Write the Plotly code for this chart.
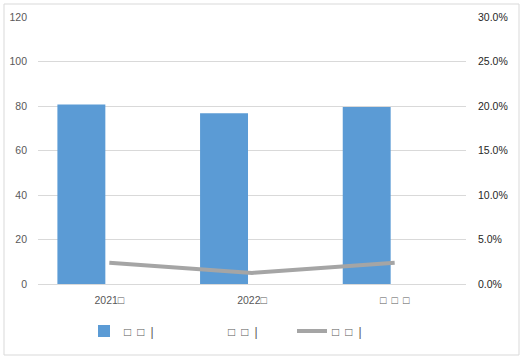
import plotly.graph_objects as go

categories = ["2021□", "2022□", "□\u2002□\u2002□"]
bar_values = [80.7, 76.7, 79.6]
empty_values = [None, None, None]
rate_values = [0.024, 0.0125, 0.024]
series_names = ["□\u2002□\u2002|", "□\u2002□\u2002|", "□\u2002□\u2002|"]

W, H = 526, 362
L, R, T, B = 38, 60, 17, 78
pw, ph = W - L - R, H - T - B

def px_x(p):
    return (p - L) / pw

def px_y(p):
    return (H - B - p) / ph

fig = go.Figure()
fig.add_trace(go.Bar(
    x=categories, y=bar_values, name=series_names[0],
    marker=dict(color="#5b9bd5", line=dict(width=0)),
    width=0.336, offset=-0.364,
))
fig.add_trace(go.Bar(
    x=categories, y=empty_values, name=series_names[1],
    marker=dict(color="rgba(0,0,0,0)", line=dict(width=0)),
    width=0.336, offset=0.028, showlegend=True,
))
fig.add_trace(go.Scatter(
    x=categories, y=rate_values, name=series_names[2], yaxis="y2",
    mode="lines", line=dict(color="#a5a5a5", width=4),
))

fig.update_layout(
    width=W, height=H,
    margin=dict(l=L, r=R, t=T, b=B, pad=0, autoexpand=False),
    paper_bgcolor="white", plot_bgcolor="white",
    font=dict(family="Liberation Sans, Arial, sans-serif", size=10, color="#595959"),
    barmode="overlay",
    showlegend=True,
    legend=dict(orientation="h", x=0.5 - 12 / pw, xanchor="center", y=px_y(331), yanchor="middle",
                font=dict(size=12, color="#595959"), entrywidth=59, entrywidthmode="pixels",
                traceorder="normal"),
    xaxis=dict(showgrid=False, showline=True, linecolor="#d9d9d9", linewidth=1, automargin=False,
               ticks="", tickfont=dict(size=10.5, color="#595959"), ticklabelstandoff=6),
    yaxis=dict(range=[0, 120], dtick=20, showgrid=True, gridcolor="#d9d9d9", gridwidth=1,
               zeroline=False, showline=False, ticks="", ticklabelstandoff=10, automargin=False,
               tickfont=dict(size=10.5, color="#595959")),
    yaxis2=dict(range=[0, 0.3], dtick=0.05, tickformat=".1%", overlaying="y", side="right",
                showgrid=False, zeroline=False, showline=False, ticks="", ticklabelstandoff=11,
                automargin=False, tickfont=dict(size=10.5, color="#262626")),
    shapes=[dict(type="rect", xref="paper", yref="paper",
                 x0=px_x(4), x1=px_x(519), y0=px_y(355), y1=px_y(4),
                 line=dict(color="#d9d9d9", width=1), fillcolor="rgba(0,0,0,0)", layer="below")],
)

fig.write_html("out.html", config={"displayModeBar": False},
               post_script="document.body.style.margin='0';document.body.style.overflow='hidden';")
